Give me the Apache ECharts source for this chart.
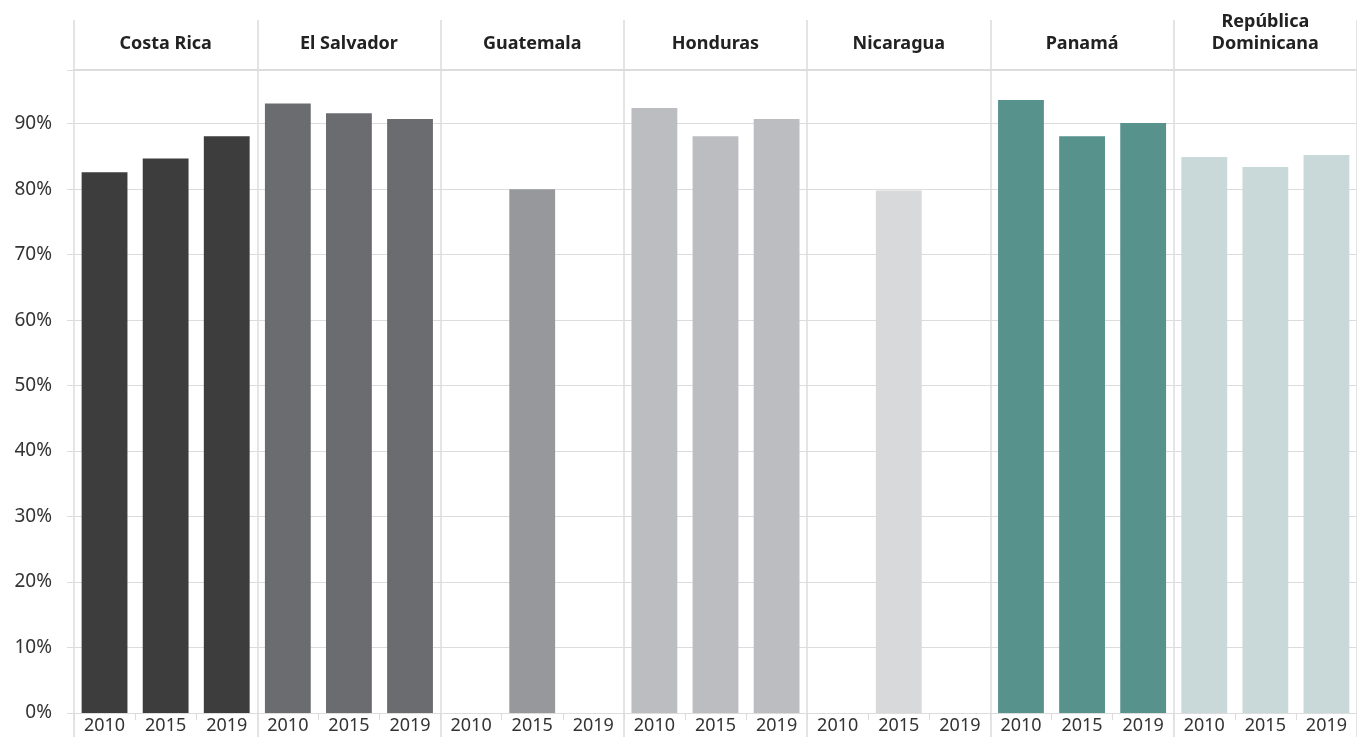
<!DOCTYPE html>
<html>
<head>
<meta charset="utf-8">
<title>Centroamérica 2010-2019</title>
<script src="https://cdn.jsdelivr.net/npm/echarts@6/dist/echarts.min.js"></script>
<style>
  html, body { margin: 0; padding: 0; background: #fff; }
  #main { width: 1357px; height: 737px; }
</style>
</head>
<body>
<div id="main"></div>
<script>
// countries (panels) and years inside each panel
var countries = ['Costa Rica', 'El Salvador', 'Guatemala', 'Honduras', 'Nicaragua', 'Panamá', 'República\nDominicana']
var years = ['2010', '2015', '2019']
var colors = ['#3d3d3d', '#6b6c70', '#97989c', '#bcbdc1', '#d8d9db', '#57928c', '#c9d8d8']

// values in %, one array per country (2010, 2015, 2019), null = no data
var costaRica = [82.6, 84.7, 88.1]
var elSalvador = [93.1, 91.6, 90.7]
var guatemala = [null, 80.0, null]
var honduras = [92.4, 88.1, 90.7]
var nicaragua = [null, 79.8, null]
var panama = [93.6, 88.1, 90.1]
var repDominicana = [84.9, 83.4, 85.2]

var yTicks = [0, 10, 20, 30, 40, 50, 60, 70, 80, 90]

var panels = [costaRica, elSalvador, guatemala, honduras, nicaragua, panama, repDominicana]
var yearCats = []
var barData = []
panels.forEach(function (vals, i) {
  vals.forEach(function (v, j) {
    yearCats.push(years[j] + '_' + i)
    barData.push({ value: v === null ? '-' : v, itemStyle: { color: colors[i] } })
  })
})

var lineColor = '#dcdcdc'
var font = 'Noto Sans'

var chart = echarts.init(document.getElementById('main'))
chart.setOption({
  animation: false,
  textStyle: { fontFamily: font },
  grid: { left: 74, right: -5, top: 70, bottom: 24 },
  xAxis: [
    {
      // years
      type: 'category',
      position: 'bottom',
      data: yearCats,
      axisLine: { show: false },
      axisTick: { show: true, length: 7, lineStyle: { color: lineColor } },
      axisLabel: {
        margin: 4,
        fontSize: 18,
        color: '#333',
        interval: 0,
        formatter: function (v) { return v.split('_')[0] }
      },
      splitLine: { show: false }
    },
    {
      // long panel separators under the axis
      type: 'category',
      position: 'bottom',
      data: countries,
      axisLine: { show: false },
      axisTick: { show: true, length: 24, lineStyle: { color: lineColor, width: 1.5 } },
      axisLabel: { show: false },
      splitLine: { show: false }
    },
    {
      // country header on top
      type: 'category',
      position: 'top',
      data: countries,
      axisLine: { show: true, lineStyle: { color: lineColor, width: 2 } },
      axisTick: { show: true, length: 50, lineStyle: { color: lineColor, width: 1.5 } },
      axisLabel: {
        margin: 15,
        fontSize: 18,
        lineHeight: 22,
        fontWeight: 'bold',
        color: '#222',
        interval: 0
      },
      splitLine: { show: true, lineStyle: { color: lineColor, width: 1.5 } }
    }
  ],
  yAxis: {
    type: 'value',
    min: 0,
    max: 98.2,
    interval: 10,
    axisLine: { show: false },
    axisTick: { show: true, length: 7, lineStyle: { color: lineColor } },
    axisLabel: {
      margin: 22,
      fontSize: 19,
      color: '#333',
      formatter: function (v) { return yTicks.indexOf(v) >= 0 ? v + '%' : '' }
    },
    splitLine: { show: true, lineStyle: { color: lineColor, width: 1 } }
  },
  series: [{
    type: 'bar',
    xAxisIndex: 0,
    barWidth: '75%',
    data: barData
  }]
})
</script>
</body>
</html>
